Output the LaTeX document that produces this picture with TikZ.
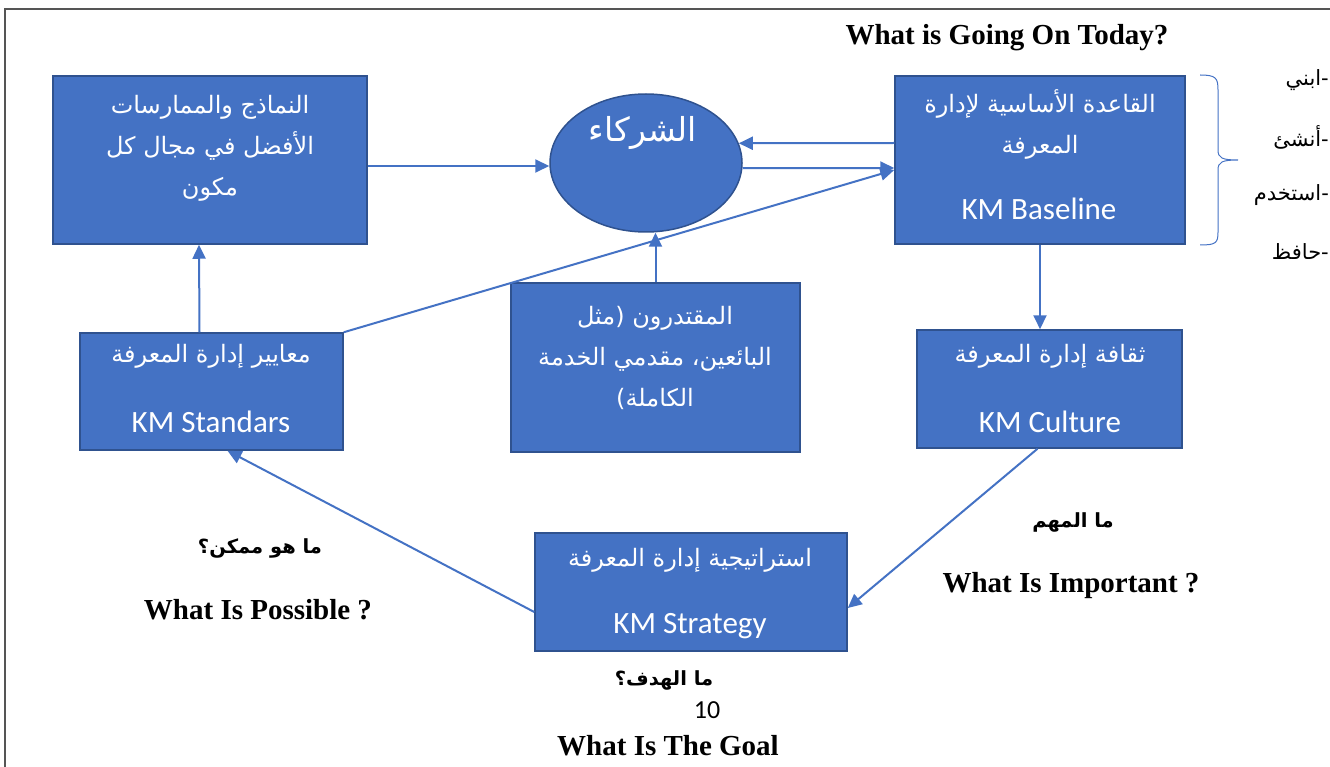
\documentclass[tikz,border=0pt]{standalone}
\usepackage{fontspec}
\usetikzlibrary{arrows.meta,shapes.geometric}
\setmainfont{Liberation Serif}
\newfontfamily\arfont[Script=Arabic]{DejaVu Sans}
\newfontfamily\calfont{Carlito}
\TeXXeTstate=1
\newcommand{\artext}[1]{{\arfont\beginR #1\endR}}
\definecolor{boxfill}{HTML}{4472C4}
\definecolor{boxedge}{HTML}{2F528F}
\definecolor{framegray}{HTML}{555555}
\tikzset{
  kmbox/.style={draw=boxedge, fill=boxfill, line width=1.5pt, inner sep=0pt},
  boxtxt/.style={text=white, align=center, inner sep=0pt, font=\fontsize{24}{41}\selectfont},
  lattxt/.style={text=white, inner sep=0pt, font=\calfont\fontsize{31}{36}\selectfont},
  arr/.style={draw=boxfill, line width=2pt, -{Triangle[length=14pt,width=13pt]}},
  qtxt/.style={inner sep=0pt, font=\bfseries\fontsize{29}{34}\selectfont},
  artq/.style={inner sep=0pt, font=\bfseries\fontsize{19.5}{24}\selectfont},
  listtxt/.style={inner sep=0pt, anchor=east, font=\fontsize{21}{24}\selectfont}
}
\begin{document}
\begin{tikzpicture}[x=1pt,y=-1pt]
\useasboundingbox (0,0) rectangle (1330,767);
% frame
\draw[framegray, line width=2pt] (1330,9) -- (5,9) -- (5,767);

% boxes
\node[kmbox, minimum width=314pt, minimum height=168pt] (A) at (210,160) {};
\node[kmbox, ellipse, minimum width=192pt, minimum height=138pt] (ell) at (646,163) {};
\node[kmbox, minimum width=290pt, minimum height=168pt] (B) at (1040,160) {};
\node[kmbox, minimum width=263pt, minimum height=117pt] (C) at (211.5,391.5) {};
\node[kmbox, minimum width=289pt, minimum height=169pt] (D) at (655.5,367.5) {};
\node[kmbox, minimum width=265pt, minimum height=118pt] (E) at (1049.5,389) {};
\node[kmbox, minimum width=312pt, minimum height=118pt] (F) at (691,592) {};

% box texts
\node[boxtxt] (Atxt) at (210,148) {\artext{النماذج والممارسات}\\ \artext{الأفضل في مجال كل}\\ \artext{مكون}};
\node[boxtxt, font=\fontsize{33}{38}\selectfont] (elltxt) at (643,133) {\artext{الشركاء}};
\node[boxtxt] (Btxt) at (1040,124) {\artext{القاعدة الأساسية لإدارة}\\ \artext{المعرفة}};
\node[lattxt] (Blat) at (1039,209) {KM Baseline};
\node[boxtxt] (Ctxt) at (211,356) {\artext{معايير إدارة المعرفة}};
\node[lattxt] (Clat) at (211,422) {KM Standars};
\node[boxtxt] (Dtxt) at (655,358) {\artext{المقتدرون (مثل}\\ \artext{البائعين، مقدمي الخدمة}\\ \artext{الكاملة)}};
\node[boxtxt] (Etxt) at (1050,356) {\artext{ثقافة إدارة المعرفة}};
\node[lattxt] (Elat) at (1050,422) {KM Culture};
\node[boxtxt] (Ftxt) at (690,560) {\artext{استراتيجية إدارة المعرفة}};
\node[lattxt] (Flat) at (690,626) {KM Strategy};

% connectors
\draw[arr] ([yshift=-6pt]A.east) -- ([yshift=-3pt]ell.west);
\draw[arr] ([yshift=17pt]B.west) -- (ell.12);
\draw[arr] (ell.-3) -- ([yshift=-8pt]B.west);
\draw[arr] (C.north east) -- ([yshift=-10pt]B.west);
\draw[arr] (D.north) -- (D.north |- ell.south);
\draw[arr] ([xshift=-12pt]C.north) -- ([xshift=-11pt]A.south);
\draw[arr] (B.south) -- (B.south |- E.north);
\draw[arr] ([xshift=-12pt]E.south) -- ([yshift=-16pt]F.east);
\draw[arr] ([yshift=-20pt]F.west) -- ([xshift=16pt]C.south);

% brace
\draw[boxfill, line width=1pt] (1200,75) .. controls (1216,75) and (1218,78) .. (1218,90)
  -- (1218,150) .. controls (1218,158) and (1222,160) .. (1238,160)
  .. controls (1222,160) and (1218,162) .. (1218,170)
  -- (1218,232) .. controls (1218,243) and (1216,245) .. (1200,245);

% right list
\node[listtxt] (l1) at (1329,80) {\artext{-ابني}};
\node[listtxt] (l2) at (1329,137) {\artext{-أنشئ}};
\node[listtxt] (l3) at (1329,195) {\artext{-استخدم}};
\node[listtxt] (l4) at (1329,252) {\artext{-حافظ}};

% questions
\node[qtxt] (q1) at (1007,38) {What is Going On Today?};
\node[artq] (q2a) at (1073,522) {\artext{ما المهم}};
\node[qtxt] (q2) at (1071,586) {What Is Important ?};
\node[artq] (q3a) at (260,548) {\artext{ما هو ممكن؟}};
\node[qtxt] (q3) at (258,610) {What Is Possible ?};
\node[artq] (q4a) at (664,680) {\artext{ما الهدف؟}};
\node[inner sep=0pt, font=\calfont\fontsize{26}{30}\selectfont] (pg) at (707,710) {10};
\node[qtxt] (q4) at (668,746) {What Is The Goal};
\end{tikzpicture}
\end{document}
